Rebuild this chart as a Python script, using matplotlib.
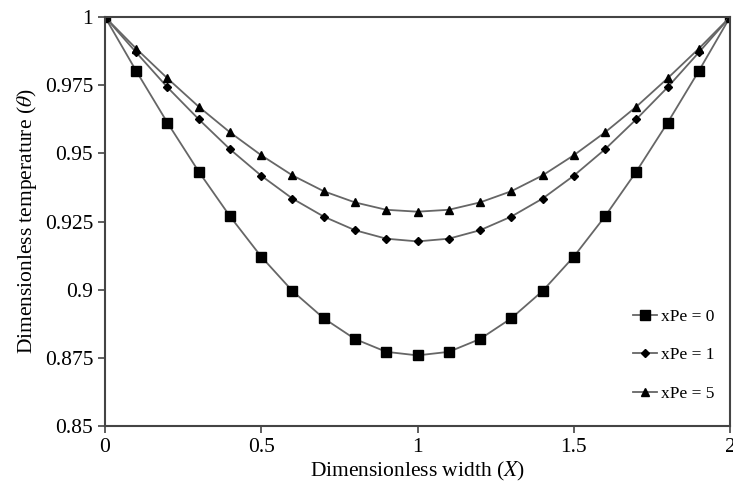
import numpy as np
import matplotlib
matplotlib.use("Agg")
import matplotlib.pyplot as plt

plt.rcParams["font.family"] = ["Liberation Serif", "DejaVu Serif"]
plt.rcParams["mathtext.fontset"] = "stix"

# dimensionless width positions
x = [0.0, 0.1, 0.2, 0.3, 0.4, 0.5, 0.6, 0.7, 0.8, 0.9, 1.0,
     1.1, 1.2, 1.3, 1.4, 1.5, 1.6, 1.7, 1.8, 1.9, 2.0]

# temperature profiles (symmetric about X = 1)
half_pe0 = [1.0, 0.9802, 0.9612, 0.9433, 0.9269, 0.9121,
            0.8995, 0.8895, 0.8819, 0.8772, 0.8759]
half_pe1 = [1.0, 0.9870, 0.9742, 0.9625, 0.9515, 0.9418,
            0.9334, 0.9268, 0.9218, 0.9187, 0.9177]
half_pe5 = [1.0, 0.9884, 0.9775, 0.9671, 0.9577, 0.9493,
            0.9419, 0.9361, 0.9320, 0.9293, 0.9286]

theta_pe0 = half_pe0 + half_pe0[-2::-1]
theta_pe1 = half_pe1 + half_pe1[-2::-1]
theta_pe5 = half_pe5 + half_pe5[-2::-1]

series = [
    ("xPe = 0", theta_pe0, "s", 6.5),
    ("xPe = 1", theta_pe1, "D", 4.5),
    ("xPe = 5", theta_pe5, "^", 5.5),
]

fig = plt.figure(figsize=(7.33, 4.9), dpi=100)
ax = fig.add_axes([0.1432, 0.1306, 0.8528, 0.8347])

for label, vals, mk, ms in series:
    ax.plot(x, vals, color="#666666", lw=1.3, marker=mk, markersize=ms,
            markerfacecolor="black", markeredgecolor="black", label=label)

ax.set_xlim(0, 2)
ax.set_ylim(0.85, 1.0)
ax.set_xticks([0, 0.5, 1, 1.5, 2])
ax.set_xticklabels(["0", "0.5", "1", "1.5", "2"])
ax.set_yticks([0.85, 0.875, 0.9, 0.925, 0.95, 0.975, 1.0])
ax.set_yticklabels(["0.85", "0.875", "0.9", "0.925", "0.95", "0.975", "1"])
ax.tick_params(direction="out", length=5, width=1.2, labelsize=15.5,
               color="#444444")

for spine in ax.spines.values():
    spine.set_color("#444444")
    spine.set_linewidth(1.5)

ax.set_xlabel("Dimensionless width ($X$)", fontsize=15.5, labelpad=2)
ax.set_ylabel(r"Dimensionless temperature ($\theta$)", fontsize=15.5, labelpad=4)

ax.legend(loc="lower right", bbox_to_anchor=(1.0, 0.02), frameon=False,
          fontsize=12.5, handlelength=1.4, handletextpad=0.2,
          labelspacing=1.3)

fig.savefig("out.png", dpi=100)
